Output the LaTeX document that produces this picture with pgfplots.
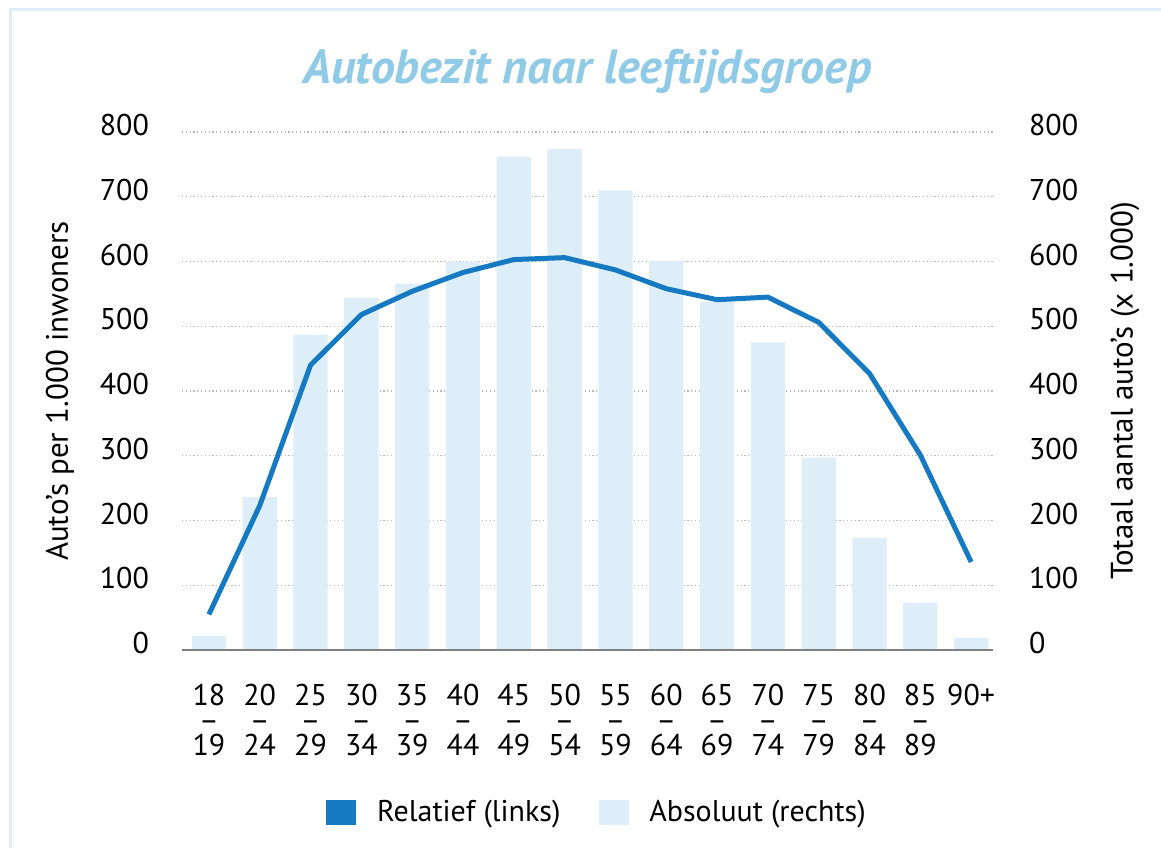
\documentclass[border=0pt]{standalone}
\usepackage{fontspec}
\setmainfont{PT Sans}
\usepackage{pgfplots}
\pgfplotsset{compat=1.18}

\definecolor{linecol}{RGB}{21,122,194}
\definecolor{barcol}{RGB}{221,238,248}
\definecolor{titlecol}{RGB}{143,202,231}
\definecolor{framecol}{RGB}{222,237,249}
\definecolor{axcol}{RGB}{128,128,128}
\definecolor{gridcol}{RGB}{185,185,185}

\pgfplotsset{
  base/.style={
    scale only axis, width=405.5pt, height=259pt,
    xmin=-0.53, xmax=15.43, ymin=0, ymax=800,
    ytick={0,100,...,800},
    major tick length=0pt,
    tick label style={font=\fontsize{15}{15}\selectfont},
    /pgf/number format/assume math mode=true,
    /pgf/number format/1000 sep={},
    label style={font=\fontsize{15.5}{15.5}\selectfont},
  }
}

\begin{document}
\begin{tikzpicture}
% right axis: absolute numbers as bars, with the grid behind them
\begin{axis}[base,
  axis y line*=right, axis x line=none, xtick=\empty,
  y axis line style={draw=none},
  ymajorgrids, grid style={gridcol, line width=0.6pt, dash pattern=on 0.6pt off 1.3pt},
  yticklabel style={xshift=14.5pt, yshift=3.5pt},
  ylabel={Totaal aantal auto’s (x 1.000)},
  ylabel style={at={(axis description cs:1.1628,0.5)}, anchor=center},
]
\addplot[ybar, bar width=0.675, fill=barcol, draw=none] coordinates {
  (0,22) (1,236) (2,487) (3,544) (4,566) (5,600) (6,762) (7,774)
  (8,710) (9,601) (10,538) (11,475) (12,297) (13,173) (14,73) (15,19)
};
\end{axis}

% left axis: cars per 1000 inhabitants as a line
\begin{axis}[base,
  axis y line*=left, axis x line*=bottom,
  y axis line style={draw=none},
  x axis line style={axcol, line width=1.2pt, -},
  xtick={0,...,15},
  xticklabels={{18\\–\\19},{20\\–\\24},{25\\–\\29},{30\\–\\34},{35\\–\\39},
    {40\\–\\44},{45\\–\\49},{50\\–\\54},{55\\–\\59},{60\\–\\64},{65\\–\\69},
    {70\\–\\74},{75\\–\\79},{80\\–\\84},{85\\–\\89},{90+}},
  xticklabel style={align=center, inner xsep=1pt, font=\fontsize{15}{12.5}\selectfont, yshift=-13.5pt},
  yticklabel style={xshift=-13pt, yshift=3.5pt},
  ylabel={Auto’s per 1.000 inwoners},
  ylabel style={at={(axis description cs:-0.1504,0.5)}, anchor=center},
  title={Autobezit naar leeftijdsgroep},
  title style={font=\fontsize{24}{24}\selectfont\bfseries\itshape, color=titlecol,
    at={(axis description cs:0.5,1)}, anchor=base, yshift=18.5pt},
  legend style={at={(axis description cs:0.513,0)}, anchor=center, yshift=-81pt,
    draw=none, fill=none, font=\fontsize{15}{15}\selectfont,
    /tikz/every even column/.append style={column sep=17pt}},
  legend columns=2,
]
\addlegendimage{legend image code/.code={\fill[linecol] (0pt,-6pt) rectangle (14.5pt,6pt); \path (23pt,0pt);}}
\addlegendentry{Relatief (links)}
\addlegendimage{legend image code/.code={\fill[barcol] (0pt,-6pt) rectangle (14.5pt,6pt); \path (23pt,0pt);}}
\addlegendentry{Absoluut (rechts)}
\addplot[linecol, line width=2.5pt, line join=round, forget plot] coordinates {
  (0,55) (1,223) (2,440) (3,518) (4,554) (5,583) (6,603) (7,606)
  (8,587) (9,558) (10,541) (11,545) (12,506) (13,427) (14,301) (15,136)
};
\end{axis}

\pgfresetboundingbox
\useasboundingbox (-91pt,-99pt) rectangle (489.5pt,325pt);
\draw[framecol, line width=1.5pt] (-85.75pt,-99pt) -- (-85.75pt,320.25pt) -- (489.5pt,320.25pt);
\end{tikzpicture}
\end{document}
